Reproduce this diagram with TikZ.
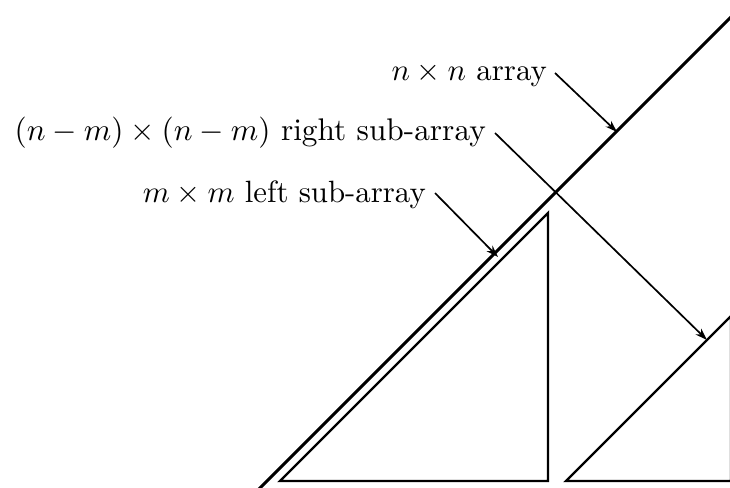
\documentclass[tikz,border=0pt]{standalone}
\usepackage{graphicx}
\usetikzlibrary{arrows.meta}
\newcommand{\bigtxt}[2][3.08]{\scalebox{#1}{#2}}
\begin{document}
\begin{tikzpicture}[x=1pt,y=-1pt,
  bigline/.style={line width=3pt},
  triline/.style={line width=2.3pt, line join=miter},
  pointer/.style={line width=1.7pt, -{Stealth[length=12pt,width=8pt]}},
  lbl/.style={font=\fontsize{10}{12}\selectfont, inner sep=0pt, anchor=base east}]
\useasboundingbox (0,0) rectangle (730,487);
\clip (0,0) rectangle (730,487);
% big array diagonal
\coordinate (bigA) at (257,491);
\coordinate (bigB) at (734,14);
\draw[bigline] (bigA) -- (bigB);
% left sub-array
\coordinate (lt1) at (280,481);
\coordinate (lt2) at (548,213);
\coordinate (lt3) at (548,481);
\draw[triline] (lt1) -- (lt2) -- (lt3) -- cycle;
% right sub-array
\coordinate (rt1) at (566,481);
\coordinate (rt2) at (731,316);
\coordinate (rt3) at (731,481);
\draw[triline] (rt1) -- (rt2) -- (rt3) -- cycle;
% labels
\node[lbl] (l1) at (547,81) {\bigtxt{$n\times n$ array}};
\node[lbl] (l2) at (486,140) {\bigtxt[3.13]{$(n-m)\times(n-m)$ right sub-array}};
\node[lbl] (l3) at (426,202) {\bigtxt{$m\times m$ left sub-array}};
% arrow targets
\coordinate (e1) at (617,132);
\coordinate (e2) at (707,340);
\coordinate (e3) at (498,257);
\draw[pointer] ([xshift=8pt,yshift=8pt]l1.base east) -- (e1);
\draw[pointer] ([xshift=9pt,yshift=7pt]l2.base east) -- (e2);
\draw[pointer] ([xshift=9pt,yshift=9pt]l3.base east) -- (e3);
\end{tikzpicture}
\end{document}
